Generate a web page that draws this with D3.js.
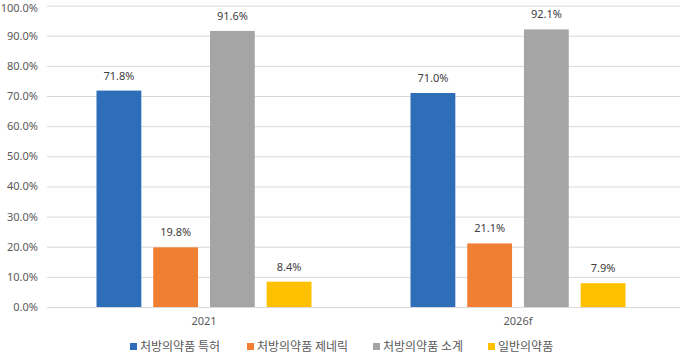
<!DOCTYPE html>
<html><head><meta charset="utf-8">
<script src="https://cdn.jsdelivr.net/npm/d3@7"></script>
<style>body{margin:0;background:#fff}svg{display:block}text{font-family:"Noto Sans CJK KR","Noto Sans",sans-serif}</style>
</head><body>
<svg id="c" width="680" height="360"></svg>
<script>
const categories = ["2021", "2026f"];
const seriesNames = ["처방의약품 특허", "처방의약품 제네릭", "처방의약품 소계", "일반의약품"];
const seriesColors = ["#2E6DB8", "#F07F34", "#A5A5A5", "#FFC000"];
const values2021 = [71.8, 19.8, 91.6, 8.4];
const values2026 = [71.0, 21.1, 92.1, 7.9];
const yTicks = [0,10,20,30,40,50,60,70,80,90,100];

const data = [values2021, values2026];
const svg = d3.select("#c");
const m = {l:47, r:5, t:5.5, b:53};
const W = 680, H = 360;
const x = d3.scaleBand().domain(categories).range([m.l, W - m.r]);
const y = d3.scaleLinear().domain([0,100]).range([307, 5.6]);
const inner = d3.scaleBand().domain(d3.range(4)).range([0, 215]).paddingInner(0.21).paddingOuter(0);

// gridlines
svg.append("g").selectAll("line").data(yTicks).join("line")
  .attr("x1", m.l).attr("x2", W).attr("y1", d=>y(d)+0.5).attr("y2", d=>y(d)+0.5)
  .attr("stroke", "#d9d9d9").attr("stroke-width", 1);

// y axis labels
const yAxis = d3.axisLeft(y).tickValues(yTicks).tickFormat(d=>d.toFixed(1)+"%").tickSize(0).tickPadding(0);
const ga = svg.append("g").attr("transform", `translate(38,0)`).call(yAxis);
ga.select(".domain").remove();
ga.selectAll("text").attr("fill", "#595959").style("font-size", "11px").style("font-family", "'Noto Sans','Noto Sans CJK KR',sans-serif");
ga.selectAll(".tick").filter(d=>d===100).select("text").attr("dy", "0.55em");

// x labels
const xAxis = d3.axisBottom(x).tickSize(0).tickPadding(0);
const gx = svg.append("g").attr("transform", `translate(0,317)`).call(xAxis);
gx.select(".domain").remove();
gx.selectAll("text").attr("fill", "#595959").style("font-size", "11px").style("font-family", "'Noto Sans',sans-serif");

// bars
categories.forEach((cat, ci) => {
  const g = svg.append("g").attr("transform", `translate(${x(cat) + x.bandwidth()/2 - 107.5},0)`);
  g.selectAll("rect").data(data[ci]).join("rect")
    .attr("x", (d,i)=>inner(i)).attr("width", inner.bandwidth())
    .attr("y", d=>y(d)).attr("height", d=>y(0)-y(d))
    .attr("fill", (d,i)=>seriesColors[i]);
  g.selectAll("text").data(data[ci]).join("text")
    .attr("x", (d,i)=>inner(i)+inner.bandwidth()/2).attr("y", d=>y(d)-11)
    .attr("text-anchor", "middle").attr("fill", "#404040")
    .style("font-size", "11px").style("font-family", "'Noto Sans',sans-serif")
    .text(d=>d.toFixed(1)+"%");
});

// legend
const legendX = [130, 247, 373, 488];
const lg = svg.append("g");
seriesNames.forEach((n,i) => {
  lg.append("rect").attr("x", legendX[i]).attr("y", 343).attr("width", 7).attr("height", 7).attr("fill", seriesColors[i]);
  lg.append("text").attr("x", legendX[i]+10).attr("y", 351).attr("fill", "#595959")
    .style("font-size", "12px").text(n);
});
</script>
</body></html>
